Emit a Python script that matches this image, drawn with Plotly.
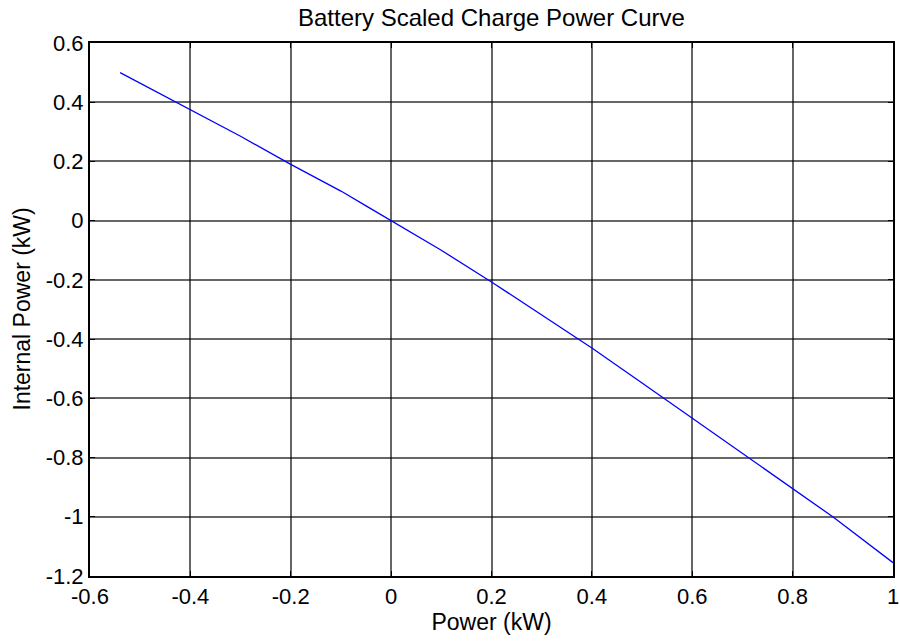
import plotly.graph_objects as go

power_kw = [-0.54, -0.4, -0.3, -0.2, -0.1, -0.05, 0.0, 0.1, 0.2, 0.3, 0.4, 0.5, 0.6, 0.7, 0.8, 0.88, 1.0]
internal_kw = [0.5, 0.375, 0.285, 0.19, 0.1, 0.05, 0.0, -0.1, -0.207, -0.318, -0.43, -0.548, -0.667, -0.786, -0.905, -1.0, -1.155]

x_ticks = [-0.6, -0.4, -0.2, 0, 0.2, 0.4, 0.6, 0.8, 1]
x_labels = ["-0.6", "-0.4", "-0.2", "0", "0.2", "0.4", "0.6", "0.8", "1"]
y_ticks = [0.6, 0.4, 0.2, 0, -0.2, -0.4, -0.6, -0.8, -1, -1.2]
y_labels = ["0.6", "0.4", "0.2", "0", "-0.2", "-0.4", "-0.6", "-0.8", "-1", "-1.2"]

font = "Liberation Sans, Arial, sans-serif"

fig = go.Figure()
fig.add_trace(go.Scatter(x=power_kw, y=internal_kw, mode="lines",
                         line=dict(color="#0000ff", width=1.3), showlegend=False))

axis_common = dict(
    showline=True, linecolor="black", linewidth=2, mirror="ticks",
    ticks="inside", ticklen=5, tickcolor="black", tickwidth=1,
    showgrid=True, gridcolor="rgba(0,0,0,0.6)", gridwidth=1.5,
    zeroline=False, tickfont=dict(family=font, size=22, color="black"),
    automargin=False,
)

fig.update_xaxes(range=[-0.6, 1.0], tickvals=x_ticks, ticktext=x_labels,
                 title=dict(text="Power (kW)", font=dict(family=font, size=23, color="black"), standoff=2),
                 **axis_common)
fig.update_yaxes(range=[-1.2, 0.6], tickvals=y_ticks, ticktext=y_labels, **axis_common)

fig.add_annotation(text="Internal Power (kW)", xref="paper", yref="paper",
                   x=(21 - 90) / 803, y=0.5, xanchor="center", yanchor="middle",
                   textangle=-90, showarrow=False,
                   font=dict(family=font, size=23, color="black"))

fig.update_layout(
    width=900, height=641,
    margin=dict(l=90, r=7, t=43, b=65),
    paper_bgcolor="white", plot_bgcolor="white",
    title=dict(text="Battery Scaled Charge Power Curve", x=0.546, xanchor="center",
               y=0.972, yanchor="middle",
               font=dict(family=font, size=24, color="black")),
)

fig.write_html("out.html")
